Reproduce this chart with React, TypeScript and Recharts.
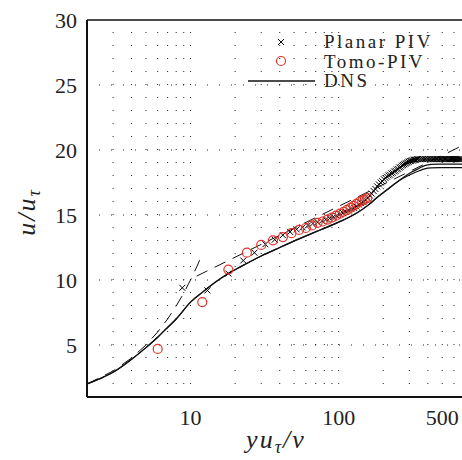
import { ComposedChart, Line, Scatter, XAxis, YAxis, ReferenceLine, Label } from "recharts";

// Planar PIV (crosses)
const planarX = [
  8.8, 13, 18, 22.7, 27, 32, 37, 42, 47, 52, 57, 62, 67, 72, 77, 82, 87, 92, 97, 102,
  107, 112, 117, 122, 127, 132, 137, 142, 147, 152, 157, 162, 167, 172, 177, 182, 187, 192, 197, 202,
  207, 212, 217, 222, 227, 232, 237, 242, 247, 252, 257, 262, 267, 272, 277, 282, 287, 292, 297, 302,
  307, 312, 317, 322, 327, 332, 337, 342, 352, 362, 372, 382, 392, 402, 412, 422, 432, 442, 452, 462,
  472, 482, 492, 502, 512, 522, 532, 542, 552, 562, 572, 582, 592, 602, 612, 622, 632, 642, 652, 662, 672,
];
const planarU = [
  9.4, 9.2, 10.5, 11.5, 12.1, 12.75, 13.1, 13.45, 13.7, 13.9, 14.05, 14.2, 14.35, 14.45, 14.55, 14.65, 14.75, 14.85, 14.95, 15.05,
  15.15, 15.25, 15.35, 15.45, 15.55, 15.65, 15.8, 15.9, 16.0, 16.15, 16.3, 16.5, 16.65, 16.85, 17.0, 17.2, 17.35, 17.5, 17.6, 17.75,
  17.85, 17.95, 18.05, 18.1, 18.2, 18.25, 18.35, 18.4, 18.5, 18.55, 18.65, 18.7, 18.8, 18.85, 18.9, 18.95, 19.0, 19.05, 19.1, 19.15,
  19.15, 19.2, 19.2, 19.25, 19.25, 19.25, 19.3, 19.3, 19.3, 19.3, 19.3, 19.3, 19.3, 19.3, 19.3, 19.3, 19.3, 19.3, 19.3, 19.3,
  19.3, 19.3, 19.3, 19.3, 19.3, 19.3, 19.3, 19.3, 19.3, 19.3, 19.3, 19.3, 19.3, 19.3, 19.3, 19.3, 19.3, 19.3, 19.3, 19.3, 19.3,
];

// Tomo-PIV (red circles)
const tomoX = [6, 12, 18, 24, 30, 36, 42, 48, 54, 60, 66, 72, 78, 84, 90, 96, 102, 108, 114, 120, 126, 132, 138, 144, 150, 156];
const tomoU = [
  4.7, 8.3, 10.8, 12.1, 12.7, 13.05, 13.3, 13.6, 13.85, 14.0, 14.2, 14.4, 14.5, 14.65, 14.8, 14.95, 15.1, 15.25, 15.4, 15.55,
  15.7, 15.85, 16.0, 16.1, 16.2, 16.3,
];

// DNS (solid)
const dnsX = [2, 2.6, 3, 4, 5, 6, 7, 8, 10, 12, 15, 18, 22, 30, 40, 55, 75, 100, 130, 160, 184, 210, 239, 270, 311, 350, 380, 420, 480, 680];
const dnsU = [2.0, 2.55, 2.9, 3.9, 4.8, 5.6, 6.35, 7.0, 8.3, 9.05, 9.9, 10.5, 11.05, 11.85, 12.5, 13.2, 13.85, 14.45, 15.1, 15.8, 16.4, 16.9, 17.4, 17.85, 18.3, 18.6, 18.8, 18.9, 18.92, 18.92];
const dns2U = [2.0, 2.55, 2.9, 3.9, 4.8, 5.6, 6.35, 7.0, 8.3, 9.05, 9.9, 10.5, 11.05, 11.85, 12.5, 13.2, 13.85, 14.45, 15.1, 15.8, 16.4, 16.9, 17.4, 17.8, 18.15, 18.4, 18.55, 18.63, 18.65, 18.65];

// reference lines (dashed)
const linX = [2, 3, 4, 5, 6, 7, 8, 9, 10, 11, 11.6];
const linU = [2, 3, 4, 5, 6, 7, 8, 9, 10, 11, 11.6];
const logX = [11, 680];
const logU = [10.3, 20.33];

const xTicks = [10, 100, 500];
const yTicks = [5, 10, 15, 20, 25, 30];
const gridX = [3, 4, 5, 6, 7, 8, 9, 10, 20, 30, 40, 50, 60, 70, 80, 90, 100, 200, 300, 400, 500, 600];
const gridY = [5, 10, 15, 20, 25];

const pts = (xs: number[], us: number[]) => xs.map((x, i) => ({ x, u: us[i] }));

const RED = "#e2332a";
const serif = "'Liberation Serif', 'Times New Roman', serif";

const Cross = (p: any) => {
  const { cx, cy } = p;
  return (
    <path
      d={`M${cx - 3},${cy - 3}L${cx + 3},${cy + 3}M${cx + 3},${cy - 3}L${cx - 3},${cy + 3}`}
      stroke="#000"
      strokeWidth={1}
      fill="none"
    />
  );
};

const Ring = (p: any) => <circle cx={p.cx} cy={p.cy} r={4.5} stroke={RED} strokeWidth={1.2} fill="none" />;

const tickStyle = { fill: "#222", fontSize: 22, fontFamily: serif };

export default function App() {
  return (
    <div style={{ position: "absolute", left: 0, top: 0, width: 462, height: 460, background: "#fff" }}>
      <ComposedChart width={462} height={460} margin={{ top: 20, right: 0, bottom: 0, left: 0 }}>
        <XAxis
          type="number"
          dataKey="x"
          scale="log"
          domain={[2, 680]}
          allowDataOverflow
          ticks={xTicks}
          height={63}
          tickLine={false}
          tickMargin={6}
          axisLine={{ stroke: "#111", strokeWidth: 2 }}
          tick={tickStyle}
        >
          <Label
            content={() => (
              <text x={276} y={448} textAnchor="middle" fontFamily={serif} fontStyle="italic" fontSize={26} fill="#222" letterSpacing={2}>
                yu<tspan fontSize={18} dy={5}>τ</tspan>
                <tspan dy={-5}>/ν</tspan>
              </text>
            )}
          />
        </XAxis>
        <YAxis
          type="number"
          dataKey="u"
          domain={[1, 30]}
          allowDataOverflow
          ticks={yTicks}
          width={87}
          tickLine={false}
          tickMargin={4}
          axisLine={{ stroke: "#111", strokeWidth: 2 }}
          tick={tickStyle}
        >
          <Label
            content={() => (
              <text
                x={35}
                y={212}
                transform="rotate(-90 35 212)"
                textAnchor="middle"
                fontFamily={serif}
                fontStyle="italic"
                fontSize={26}
                fill="#222"
                letterSpacing={2}
              >
                u/u<tspan fontSize={18} dy={5}>τ</tspan>
              </text>
            )}
          />
        </YAxis>

        {gridX.map((v) => (
          <ReferenceLine key={"gx" + v} x={v} stroke="#222" strokeDasharray="1 12" strokeWidth={1} />
        ))}
        {gridY.map((v) => (
          <ReferenceLine key={"gy" + v} y={v} stroke="#222" strokeDasharray="1 11" strokeWidth={1} />
        ))}
        <ReferenceLine y={30} stroke="#111" strokeWidth={1.5} />

        <Line data={pts(linX, linU)} dataKey="u" type="linear" dot={false} stroke="#111" strokeWidth={1} strokeDasharray="12 8" isAnimationActive={false} />
        <Line data={pts(logX, logU)} dataKey="u" type="linear" dot={false} stroke="#111" strokeWidth={1} strokeDasharray="12 8" isAnimationActive={false} />
        <Line data={pts(dnsX, dns2U)} dataKey="u" type="monotone" dot={false} stroke="#111" strokeWidth={1.2} isAnimationActive={false} />
        <Line data={pts(dnsX, dnsU)} dataKey="u" type="monotone" dot={false} stroke="#111" strokeWidth={1.2} isAnimationActive={false} />
        <Scatter data={pts(planarX, planarU)} dataKey="u" shape={Cross} isAnimationActive={false} />
        <Scatter data={pts(tomoX, tomoU)} dataKey="u" shape={Ring} isAnimationActive={false} />
      </ComposedChart>

      <div style={{ position: "absolute", left: 246, top: 32, fontFamily: serif, fontSize: 19, color: "#222" }}>
        {[
          { name: "Planar PIV", icon: <path d="M32,6L38,12M38,6L32,12" stroke="#000" strokeWidth={1} fill="none" /> },
          { name: "Tomo-PIV", icon: <circle cx={35} cy={9} r={4.5} stroke={RED} strokeWidth={1.2} fill="none" /> },
          { name: "DNS", icon: <line x1={2} y1={9} x2={69} y2={9} stroke="#111" strokeWidth={1.3} /> },
        ].map((r) => (
          <div key={r.name} style={{ display: "flex", alignItems: "center", height: 19.5, lineHeight: "19.5px" }}>
            <svg width={70} height={18} style={{ flex: "none" }}>
              {r.icon}
            </svg>
            <span style={{ marginLeft: 8, whiteSpace: "nowrap", letterSpacing: 2.5 }}>{r.name}</span>
          </div>
        ))}
      </div>
    </div>
  );
}
